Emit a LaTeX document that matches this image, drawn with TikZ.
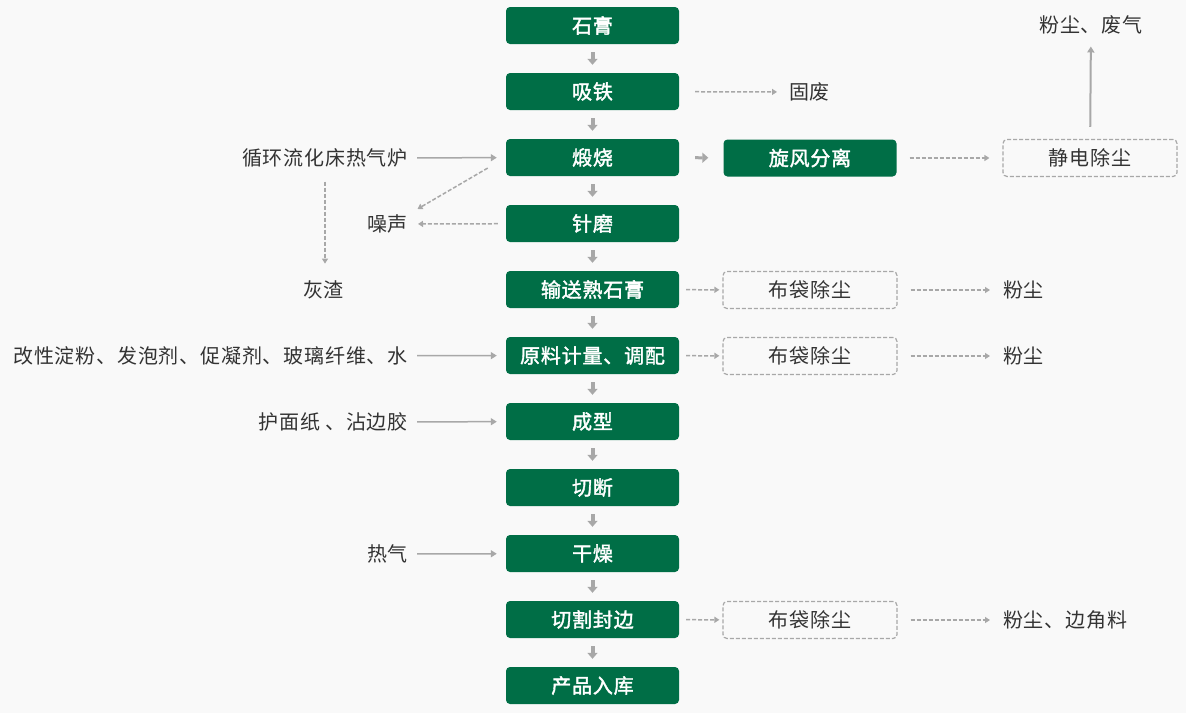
\documentclass[tikz,border=0pt]{standalone}
\usepackage{fontspec}
\setmainfont{Noto Sans CJK SC}[LetterSpace=4]
\newfontfamily\boxfont{Noto Sans CJK SC}[LetterSpace=4,FakeBold=1.8]
\usetikzlibrary{arrows.meta}
\definecolor{boxgreen}{HTML}{006E46}
\definecolor{linegray}{HTML}{A8A8A8}
\definecolor{txtgray}{HTML}{333333}
\definecolor{bggray}{HTML}{F9F9F9}

\begin{document}
\begin{tikzpicture}[x=1pt,y=-1pt,
  font=\fontsize{20pt}{24pt}\selectfont,
  mainbox/.style={fill=boxgreen,text=white,rounded corners=4pt,minimum width=173pt,minimum height=37pt,inner sep=0pt,font=\boxfont\fontsize{20pt}{24pt}\selectfont},
  dustbox/.style={draw=linegray,line width=1.2pt,dash pattern=on 4pt off 2pt,rounded corners=4pt,minimum width=174pt,minimum height=37pt,inner sep=0pt,text=txtgray},
  txtnode/.style={inner sep=0pt,text=txtgray},
  feed/.style={draw=linegray,line width=1.5pt,-{Triangle[width=7pt,length=6pt]}},
  waste/.style={draw=linegray,line width=1.5pt,dash pattern=on 4pt off 2pt,-{Triangle[width=6pt,length=5pt]}},
  flowarr/.style={draw=linegray,line width=4pt,-{Triangle[width=10pt,length=6pt]}}]
\fill[bggray] (0,0) rectangle (1186,713);
\foreach \t [count=\i] in {石膏,吸铁,煅烧,针磨,输送熟石膏,原料计量、调配,成型,切断,干燥,切割封边,产品入库}
  \node[mainbox] (m\i) at (592.5,{25.5+66*(\i-1)}) {\t};
\foreach \i [count=\j from 2] in {1,...,10}
  \draw[flowarr,shorten <=8pt,shorten >=8pt] (m\i) -- (m\j);

\node[mainbox] (cyc) at (810,158) {旋风分离};
\node[dustbox] (esp) at (1090,158) {静电除尘};
\node[txtnode] (espout) at (1091,25) {粉尘、废气};
\node[txtnode,anchor=west] (solid) at (789,92) {固废};
\node[dustbox] (bag1) at (810,290) {布袋除尘};
\node[dustbox] (bag2) at (810,356) {布袋除尘};
\node[dustbox] (bag3) at (810,620) {布袋除尘};
\node[txtnode,anchor=west] (dust1) at (1003,290) {粉尘};
\node[txtnode,anchor=west] (dust2) at (1003,356) {粉尘};
\node[txtnode,anchor=west] (dust3) at (1003,620) {粉尘、边角料};

\node[txtnode,anchor=east] (furnace) at (408,158) {循环流化床热气炉};
\node[txtnode,anchor=east] (noise) at (408,224) {噪声};
\node[txtnode] (ash) at (323.5,290) {灰渣};
\node[txtnode,anchor=east] (additive) at (408,356) {改性淀粉、发泡剂、促凝剂、玻璃纤维、水};
\node[txtnode,anchor=east] (paper) at (408,422) {护面纸 、沾边胶};
\node[txtnode,anchor=east] (hot) at (408,554) {热气};

\foreach \a/\m in {furnace/m3,additive/m6,paper/m7,hot/m9}
  \draw[feed,shorten <=9pt,shorten >=9pt] (\a) -- (\m);
\draw[waste,shorten <=8pt,shorten >=10pt] (m4) -- (noise);
\draw[waste,shorten <=21pt,shorten >=11pt] (m3.west) -- (noise.north east);
\draw[waste,shorten <=14pt,shorten >=17pt] (furnace.south) -- (furnace.south |- ash.north);
\draw[waste,shorten <=16pt,shorten >=12pt] (m2) -- (solid);
\draw[flowarr,line width=3pt,shorten <=16pt,shorten >=15pt] (m3) -- (cyc);
\draw[waste,shorten <=13pt,shorten >=13pt] (cyc) -- (esp);
\draw[feed,line width=2pt,shorten <=12pt,shorten >=12pt] (esp) -- (espout);
\foreach \i/\b in {5/bag1,6/bag2,10/bag3}
  \draw[waste,shorten <=7pt,shorten >=3pt] (m\i) -- (\b);
\foreach \b/\d in {bag1/dust1,bag2/dust2,bag3/dust3}
  \draw[waste,shorten <=13pt,shorten >=13pt] (\b) -- (\d);
\end{tikzpicture}
\end{document}
